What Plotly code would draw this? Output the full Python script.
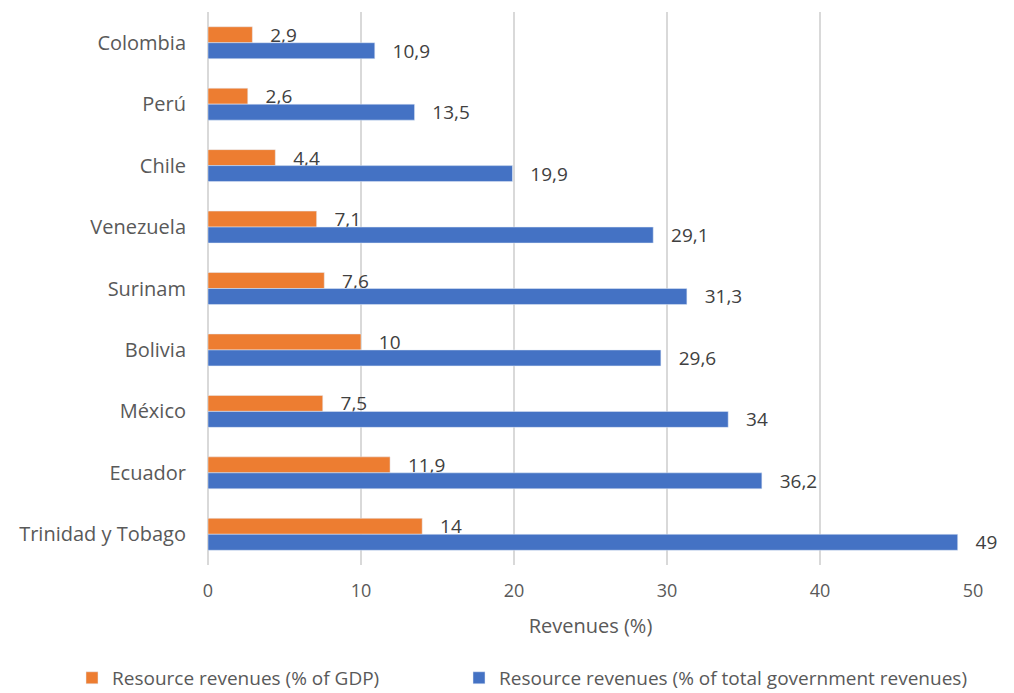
import plotly.graph_objects as go

countries = ["Colombia", "Perú", "Chile", "Venezuela", "Surinam", "Bolivia",
             "México", "Ecuador", "Trinidad y Tobago"]
gdp = [2.9, 2.6, 4.4, 7.1, 7.6, 10, 7.5, 11.9, 14]
total = [10.9, 13.5, 19.9, 29.1, 31.3, 29.6, 34, 36.2, 49]
x_ticks = [0, 10, 20, 30, 40, 50]

def fmt(v):
    s = ("%g" % v)
    return "   " + s.replace(".", ",")

FONT = "Open Sans, Lato, sans-serif"
W, H = 1006, 685

fig = go.Figure()
fig.add_trace(go.Bar(
    y=countries, x=gdp, orientation="h", name="Resource revenues (% of GDP)",
    marker=dict(color="#ED7D31"), text=[fmt(v) for v in gdp],
    textposition="outside", cliponaxis=False, constraintext="none",
    textfont=dict(size=19, color="#404040", family=FONT), legend="legend",
))
fig.add_trace(go.Bar(
    y=countries, x=total, orientation="h",
    name="Resource revenues (% of total government revenues)",
    marker=dict(color="#4472C4"), text=[fmt(v) for v in total],
    textposition="outside", cliponaxis=False, constraintext="none",
    textfont=dict(size=19, color="#404040", family=FONT), legend="legend2",
))

legend_common = dict(orientation="h", xref="container", yref="container",
                     xanchor="left", y=0.022, yanchor="middle",
                     font=dict(size=19, color="#595959", family=FONT),
                     bgcolor="rgba(0,0,0,0)")

fig.update_layout(
    width=W, height=H,
    margin=dict(l=200, r=41, t=4, b=128, autoexpand=False),
    paper_bgcolor="white", plot_bgcolor="white",
    barmode="group", bargap=0.48, bargroupgap=0,
    font=dict(family=FONT, size=18, color="#595959"),
    xaxis=dict(range=[0, 50], tickvals=x_ticks, showgrid=True, automargin=False,
               gridcolor="#D9D9D9", gridwidth=1.5, zeroline=True,
               zerolinecolor="#D9D9D9", zerolinewidth=1.5,
               ticklabelstandoff=13,
               tickfont=dict(size=18, color="#595959"),
               title=dict(text="Revenues (%)", font=dict(size=20, color="#595959"),
                          standoff=17)),
    yaxis=dict(autorange="reversed", showgrid=False, ticks="", automargin=False,
               ticklabelstandoff=21, tickfont=dict(size=20, color="#595959")),
    showlegend=True,
    legend=dict(x=64 / W, **legend_common),
    legend2=dict(x=451 / W, **legend_common),
)

fig.write_html("out.html")
